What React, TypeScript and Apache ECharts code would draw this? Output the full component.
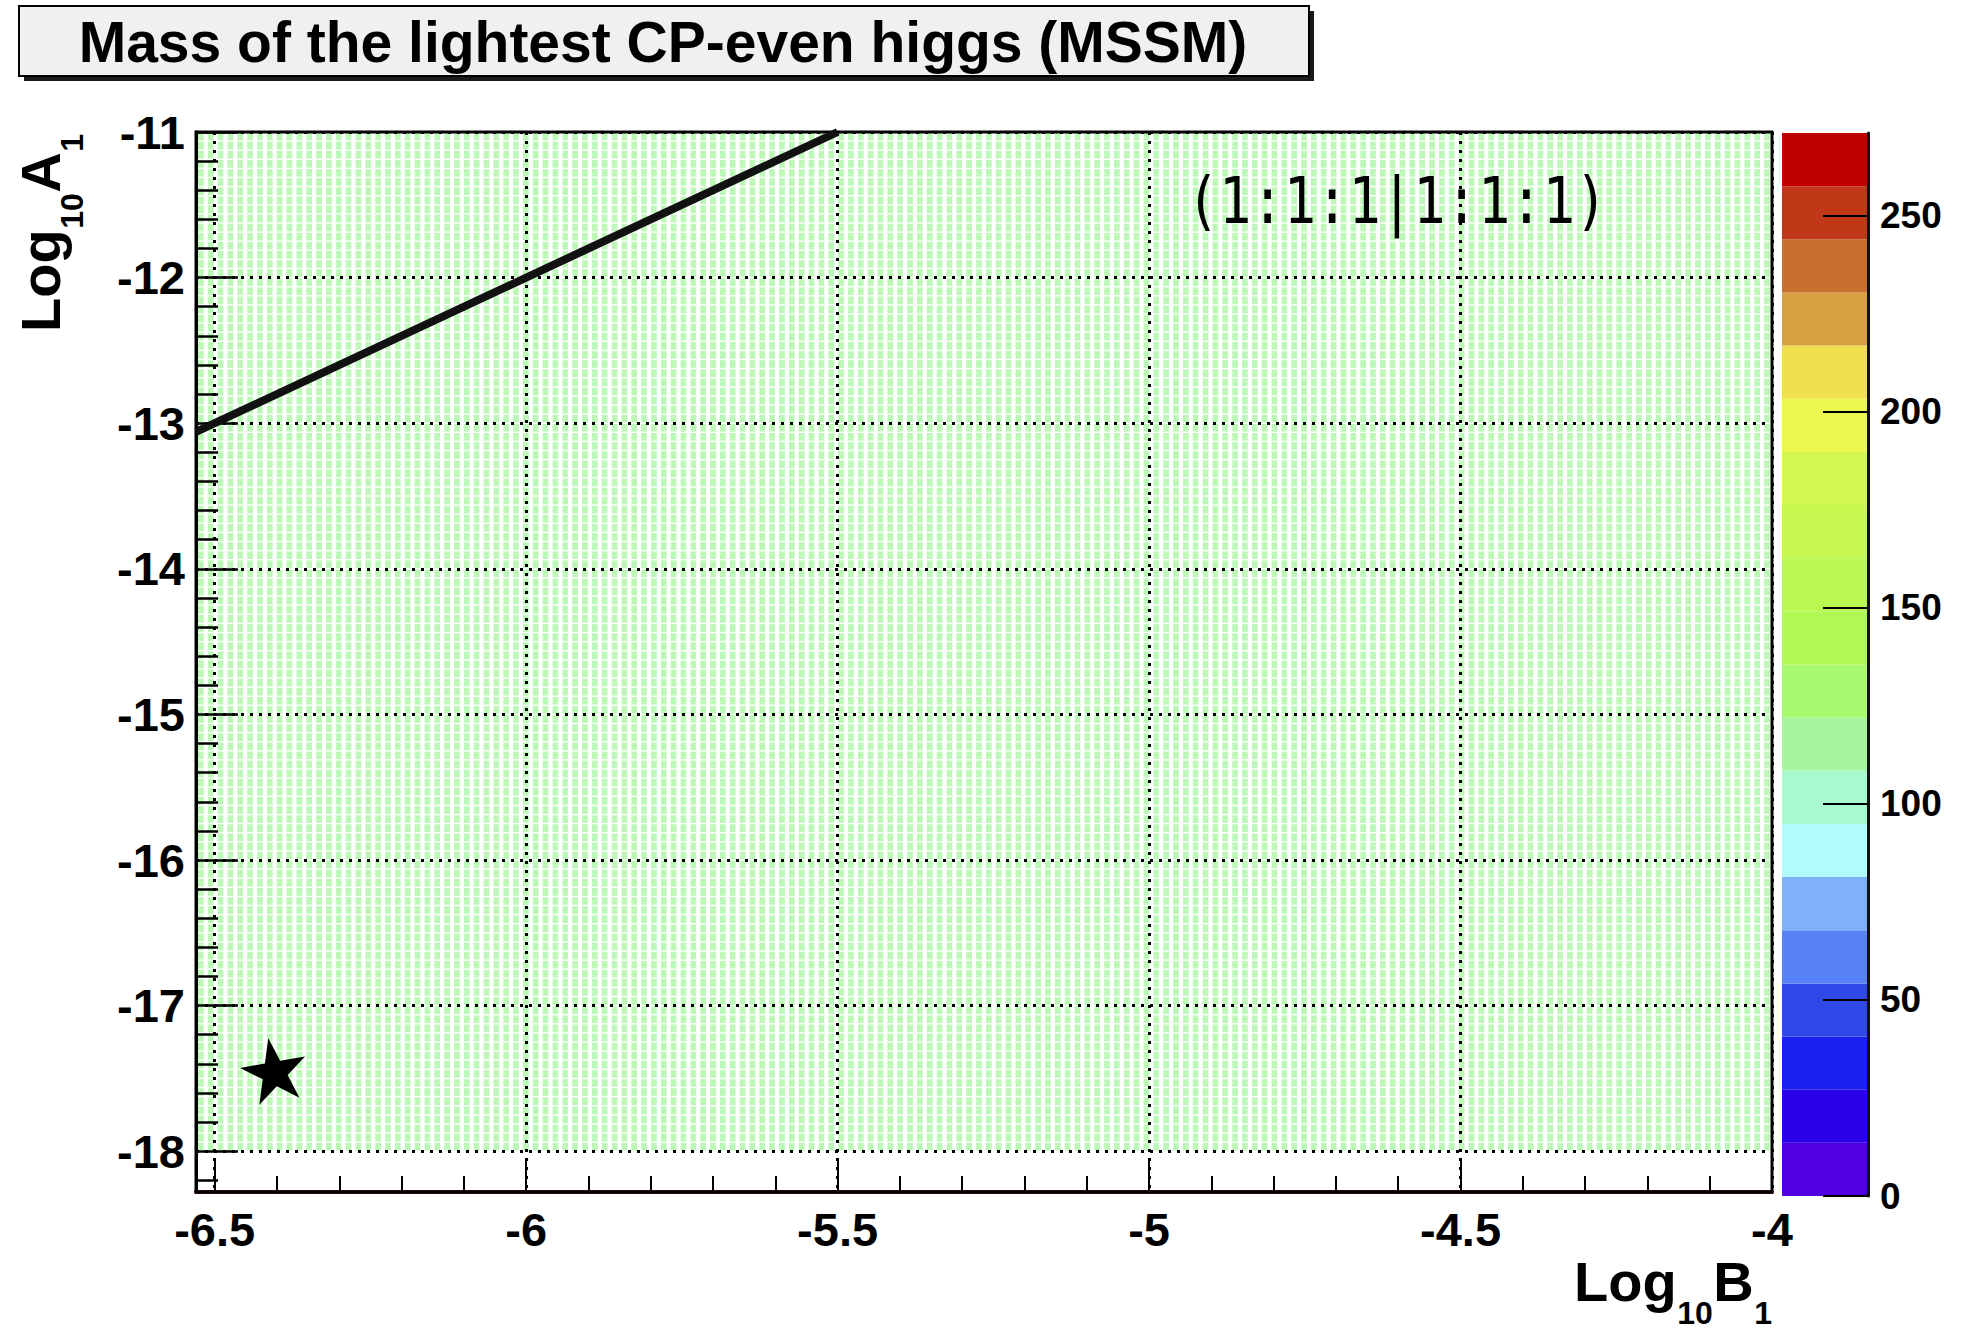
import { useEffect, useRef } from 'react';
import * as echarts from 'echarts';

const titleText = 'Mass of the lightest CP-even higgs (MSSM)';
const annotationText = '(1:1:1|1:1:1)';

// axis ranges (log10 B1 on x, log10 A1 on y)
const xRange = [-6.53, -4];
const yRange = [-18.28, -11];
const xMajorTicks = [-6.5, -6, -5.5, -5, -4.5, -4];
const xMinorTicks = [-6.4, -6.3, -6.2, -6.1, -5.9, -5.8, -5.7, -5.6, -5.4, -5.3, -5.2, -5.1, -4.9, -4.8, -4.7, -4.6, -4.4, -4.3, -4.2, -4.1];
const yMajorTicks = [-18, -17, -16, -15, -14, -13, -12, -11];
const yMinorTicks = [-18.2, -17.8, -17.6, -17.4, -17.2, -16.8, -16.6, -16.4, -16.2, -15.8, -15.6, -15.4, -15.2, -14.8, -14.6, -14.4, -14.2, -13.8, -13.6, -13.4, -13.2, -12.8, -12.6, -12.4, -12.2, -11.8, -11.6, -11.4, -11.2];

// histogram binning and content (mass in GeV, uniform over the scan)
const cellXEdgesRange = [-6.53, -4];
const cellYEdgesRange = [-18, -11];
const xBinCount = 160;
const yBinCount = 112;
const lightestHiggsMass = 114;

// contour line log10A1 = 2 log10B1
const contourB = [-6.53, -5.5];
const contourA = [-13.06, -11];

// star marker
const starPoint = [-6.405, -17.44];

// colour palette (20 contour levels)
const paletteLevels = [0, 13.55, 27.1, 40.65, 54.2, 67.75, 81.3, 94.85, 108.4, 121.95, 135.5, 149.05, 162.6, 176.15, 189.7, 203.25, 216.8, 230.35, 243.9, 257.45, 271];
const paletteColors = ['#5000e0', '#2a00e8', '#1a20f0', '#3048e8', '#5a82f8', '#80b0f8', '#b0fcfc', '#a8f8d0', '#a8f5a0', '#a8f870', '#b2f855', '#b8f850', '#c8f850', '#d4f850', '#eaf850', '#f0e050', '#d8a040', '#c87030', '#c03818', '#c00000'];
const colorbarTicks = [0, 50, 100, 150, 200, 250];

const FONT = 'Liberation Sans, Arial, Helvetica, sans-serif';

function colorFor(v: number): string {
  for (let i = 0; i < paletteColors.length; i++) {
    if (v >= paletteLevels[i] && v < paletteLevels[i + 1]) return paletteColors[i];
  }
  return paletteColors[paletteColors.length - 1];
}

function subscriptLabel(main1: string, sub1: string, main2: string, sub2: string) {
  const F = 56;
  const S = 32;
  const w1 = 1.833 * F;
  const w2 = 2 * 0.556 * S;
  const w3 = 0.722 * F;
  const mk = (t: string, x: number, y: number, fs: number) => ({
    type: 'text',
    x,
    y,
    style: {
      text: t,
      fontSize: fs,
      fontWeight: 'bold',
      fontFamily: FONT,
      fill: '#000',
      textAlign: 'left',
      textVerticalAlign: 'middle',
      align: 'left',
      verticalAlign: 'middle',
    },
  });
  return [
    mk(main1, 0, -20, F),
    mk(sub1, w1 + 0.5, 12, S),
    mk(main2, w1 + w2 + 1, -20, F),
    mk(sub2, w1 + w2 + w3 + 1.5, 12, S),
  ];
}

export default function App() {
  const ref = useRef<HTMLDivElement>(null);

  useEffect(() => {
    document.body.style.margin = '0';
    if (!ref.current) return;
    const chart = echarts.init(ref.current, undefined, { renderer: 'svg' });

    const cells: number[][] = [];
    const dx = (cellXEdgesRange[1] - cellXEdgesRange[0]) / xBinCount;
    const dy = (cellYEdgesRange[1] - cellYEdgesRange[0]) / yBinCount;
    for (let i = 0; i < xBinCount; i++) {
      for (let j = 0; j < yBinCount; j++) {
        const x0 = cellXEdgesRange[0] + i * dx;
        const y0 = cellYEdgesRange[0] + j * dy;
        cells.push([x0, x0 + dx, y0, y0 + dy, lightestHiggsMass]);
      }
    }

    const bands = paletteColors.map((_, i) => [paletteLevels[i], paletteLevels[i + 1], i]);

    const tickLabelStyle = {
      fontSize: 47,
      fontWeight: 'bold',
      fontFamily: FONT,
      color: '#000',
    };

    const option: any = {
      animation: false,
      backgroundColor: '#fff',
      grid: [
        { left: 196, top: 132, width: 1576, height: 1060, show: true, borderColor: '#000', borderWidth: 3, backgroundColor: 'transparent', z: 4 },
        { left: 1782, top: 133, width: 86, height: 1063, show: false },
      ],
      xAxis: [
        {
          type: 'value', gridIndex: 0, min: xRange[0], max: xRange[1], position: 'bottom', z: 3,
          axisLine: { show: true, onZero: false, lineStyle: { color: '#5a0a14', width: 4 } },
          axisTick: { show: true, inside: true, length: 34, customValues: xMajorTicks, lineStyle: { color: '#000', width: 2 } },
          axisLabel: { show: true, customValues: xMajorTicks, margin: 14, ...tickLabelStyle },
          splitLine: { show: true, lineStyle: { color: '#000', width: 3, type: [3, 6] } },
        },
        {
          type: 'value', gridIndex: 0, min: xRange[0], max: xRange[1], position: 'bottom', z: 3,
          axisLine: { show: false, onZero: false },
          axisTick: { show: true, inside: true, length: 16, customValues: xMinorTicks, lineStyle: { color: '#000', width: 2 } },
          axisLabel: { show: false },
          splitLine: { show: false },
        },
        {
          type: 'value', gridIndex: 1, min: 0, max: 1, show: false,
        },
      ],
      yAxis: [
        {
          type: 'value', gridIndex: 0, min: yRange[0], max: yRange[1], position: 'left', z: 3,
          axisLine: { show: true, onZero: false, lineStyle: { color: '#000', width: 3 } },
          axisTick: { show: true, inside: true, length: 42, customValues: yMajorTicks, lineStyle: { color: '#000', width: 2.5 } },
          axisLabel: { show: true, customValues: yMajorTicks, margin: 11, ...tickLabelStyle },
          splitLine: { show: true, lineStyle: { color: '#000', width: 3, type: [3, 6] } },
        },
        {
          type: 'value', gridIndex: 0, min: yRange[0], max: yRange[1], position: 'left', z: 3,
          axisLine: { show: false, onZero: false },
          axisTick: { show: true, inside: true, length: 22, customValues: yMinorTicks, lineStyle: { color: '#000', width: 2.5 } },
          axisLabel: { show: false },
          splitLine: { show: false },
        },
        {
          type: 'value', gridIndex: 1, min: 0, max: paletteLevels[paletteLevels.length - 1], position: 'right', z: 3,
          axisLine: { show: true, onZero: false, lineStyle: { color: '#111', width: 3 } },
          axisTick: { show: true, inside: true, length: 45, customValues: colorbarTicks, lineStyle: { color: '#000', width: 2 } },
          axisLabel: { show: true, customValues: colorbarTicks, margin: 12, fontSize: 37, fontWeight: 'bold', fontFamily: FONT, color: '#000' },
          splitLine: { show: false },
        },
      ],
      series: [
        {
          type: 'custom',
          name: 'mh',
          xAxisIndex: 0,
          yAxisIndex: 0,
          z: 1,
          progressive: 0,
          silent: true,
          clip: true,
          data: cells,
          encode: { x: [0, 1], y: [2, 3] },
          renderItem: (_params: any, api: any) => {
            const p0 = api.coord([api.value(0), api.value(3)]);
            const p1 = api.coord([api.value(1), api.value(2)]);
            const w = p1[0] - p0[0];
            const h = p1[1] - p0[1];
            return {
              type: 'rect',
              shape: { x: p0[0] + w * 0.2, y: p0[1] + 0.7, width: w * 0.58, height: h - 1.4 },
              style: { fill: colorFor(api.value(4)), opacity: 0.75 },
            };
          },
        },
        {
          type: 'custom',
          name: 'palette',
          xAxisIndex: 2,
          yAxisIndex: 2,
          z: 1,
          silent: true,
          data: bands,
          encode: { y: [0, 1] },
          renderItem: (_params: any, api: any) => {
            const p0 = api.coord([0, api.value(1)]);
            const p1 = api.coord([1, api.value(0)]);
            return {
              type: 'rect',
              shape: { x: p0[0], y: p0[1], width: p1[0] - p0[0], height: p1[1] - p0[1] },
              style: { fill: paletteColors[api.value(2)] },
            };
          },
        },
        {
          type: 'line',
          name: 'contour',
          xAxisIndex: 0,
          yAxisIndex: 0,
          z: 5,
          showSymbol: false,
          silent: true,
          clip: true,
          data: contourB.map((b, i) => [b, contourA[i]]),
          lineStyle: { color: '#111', width: 8 },
        },
        {
          type: 'scatter',
          name: 'star',
          xAxisIndex: 0,
          yAxisIndex: 0,
          z: 6,
          silent: true,
          symbol: 'path://M50,0 L61.2,34.5 L97.6,34.5 L68.2,55.9 L79.4,90.5 L50,69.1 L20.6,90.5 L31.8,55.9 L2.4,34.5 L38.8,34.5 Z',
          symbolSize: [66, 64],
          symbolRotate: 10,
          itemStyle: { color: '#000', opacity: 1 },
          data: [starPoint],
        },
      ],
      graphic: [
        { type: 'rect', z: 10, shape: { x: 24, y: 11, width: 1290, height: 70 }, style: { fill: '#1a1a1a' } },
        { type: 'rect', z: 11, shape: { x: 19, y: 6, width: 1290, height: 70 }, style: { fill: '#f0f0f0', stroke: '#000', lineWidth: 2 } },
        {
          type: 'text', z: 12, x: 663, y: 42,
          style: { text: titleText, fontSize: 57, fontWeight: 'bold', fontFamily: FONT, fill: '#000', textAlign: 'center', textVerticalAlign: 'middle', align: 'center', verticalAlign: 'middle' },
        },
        {
          type: 'text', z: 12, x: 1397, y: 201, scaleX: 0.84,
          style: { text: annotationText, fontSize: 64, fontFamily: 'DejaVu Sans Mono, monospace', fill: '#000', textAlign: 'center', textVerticalAlign: 'middle', align: 'center', verticalAlign: 'middle' },
        },
        {
          type: 'group', z: 12, x: 1574, y: 1301,
          children: subscriptLabel('Log', '10', 'B', '1'),
        },
        {
          type: 'group', z: 12, x: 60, y: 332, rotation: Math.PI / 2,
          children: subscriptLabel('Log', '10', 'A', '1'),
        },
      ],
    };

    chart.setOption(option);
    return () => chart.dispose();
  }, []);

  return <div ref={ref} style={{ width: 1971, height: 1330 }} />;
}
